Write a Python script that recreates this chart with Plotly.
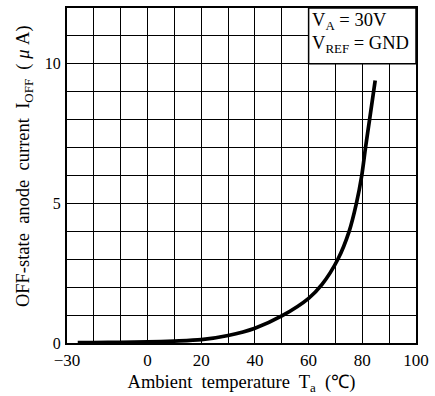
import plotly.graph_objects as go

# Data
temp_c = [-26, -20, -10, 0, 10, 20, 30, 40, 50, 60, 65, 70.9, 75.1, 77.8, 79.8, 81.2, 82.7, 84.8]
i_off_ua = [0.01, 0.015, 0.025, 0.04, 0.07, 0.12, 0.27, 0.53, 0.97, 1.6, 2.1, 3.0, 4.0, 5.0, 6.0, 7.0, 8.0, 9.4]

x_tickvals = list(range(-30, 101, 10))
x_ticktext = ["−30", "", "", "0", "", "20", "", "40", "", "60", "", "80", "", "100"]
y_tickvals = list(range(0, 13))
y_ticktext = ["0", "", "", "", "", "5", "", "", "", "", "10", "", ""]

FONT = "Liberation Serif"

fig = go.Figure()
fig.add_trace(go.Scatter(
    x=temp_c, y=i_off_ua, mode="lines",
    line=dict(color="black", width=3.7, shape="spline", smoothing=0.8),
    showlegend=False, hoverinfo="skip",
))

fig.update_layout(
    width=435, height=396,
    margin=dict(l=67, r=12, t=6, b=53),
    paper_bgcolor="white", plot_bgcolor="white",
    font=dict(family=FONT, size=17, color="black"),
)

fig.update_xaxes(
    range=[-30, 100], tickmode="array", tickvals=x_tickvals, ticktext=x_ticktext,
    tickfont=dict(size=17, family=FONT), ticklabeloverflow="allow",
    showgrid=True, gridcolor="black", gridwidth=1.4,
    showline=True, linecolor="black", linewidth=2, mirror=True,
    ticks="", zeroline=False, ticklabelstandoff=1,
    title=dict(text="Ambient  temperature  T<sub>a</sub>  (℃)", font=dict(size=18.5, family=FONT), standoff=6),
)
fig.update_yaxes(
    range=[0, 12], tickmode="array", tickvals=y_tickvals, ticktext=y_ticktext,
    tickfont=dict(size=16, family=FONT),
    showgrid=True, gridcolor="black", gridwidth=1.4,
    showline=True, linecolor="black", linewidth=2, mirror=True,
    ticks="", zeroline=False, ticklabelstandoff=1,
    title=dict(text="&nbsp;&nbsp;&nbsp;&nbsp;OFF-state  anode  current  I<sub>OFF</sub>  ( <i>μ</i> A)",
               font=dict(size=18.5, family=FONT), standoff=10),
)

# Condition box
fig.add_shape(type="rect", x0=60, x1=100, y0=10, y1=12, xref="x", yref="y",
              fillcolor="white", line=dict(color="black", width=1.5), layer="above")
fig.add_annotation(x=60.4, y=11.5, xref="x", yref="y", xanchor="left", yanchor="middle",
                   text="V<sub>A</sub> = 30V", showarrow=False, font=dict(size=18.5, family=FONT))
fig.add_annotation(x=60.4, y=10.7, xref="x", yref="y", xanchor="left", yanchor="middle",
                   text="V<sub>REF</sub> = GND", showarrow=False, font=dict(size=18.5, family=FONT))

fig.write_html("out.html")
